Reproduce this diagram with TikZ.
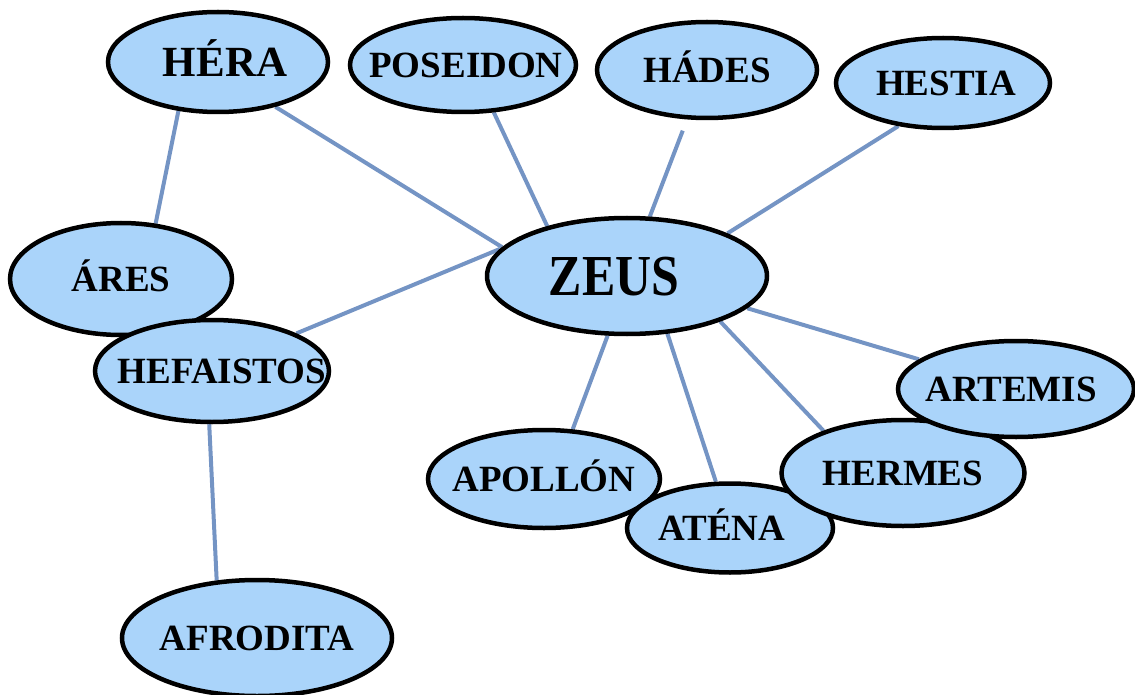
\documentclass[tikz,border=0pt]{standalone}
\usepackage{fontspec}
\setmainfont{Liberation Serif}
\newfontfamily\zeusfont{Liberation Serif}[FakeStretch=0.86]
\usetikzlibrary{shapes.geometric,backgrounds}
\definecolor{nodefill}{RGB}{170,212,250}
\definecolor{edgecol}{RGB}{116,148,196}
\newcommand{\godtext}[2][0pt]{\makebox[0pt]{\kern#1\raisebox{-0.33em}[0pt][0pt]{#2}}}
\tikzset{
  god/.style={ellipse, draw=black, line width=4.5pt, fill=nodefill, inner sep=0pt,
    font=\fontsize{37}{40}\selectfont\bfseries},
  link/.style={draw=edgecol, line width=4pt}
}
\begin{document}
\begin{tikzpicture}[x=1pt,y=-1pt]
\useasboundingbox (0,0) rectangle (1135,695);
\node[god, minimum width=220pt, minimum height=100pt, font=\fontsize{43}{46}\selectfont\bfseries] (hera) at (218,62) {\godtext[14pt]{HÉRA}};
\node[god, minimum width=226pt, minimum height=94pt] (poseidon) at (463,65) {\godtext[6pt]{POSEIDON}};
\node[god, minimum width=220pt, minimum height=96pt] (hades) at (707,70) {\godtext{HÁDES}};
\node[god, minimum width=214pt, minimum height=90pt] (hestia) at (943,83) {\godtext[6pt]{HESTIA}};
\node[god, minimum width=280pt, minimum height=116pt, font=\zeusfont\fontsize{58}{60}\selectfont\bfseries] (zeus) at (627,276) {\godtext[-26pt]{ZEUS}};
\node[god, minimum width=222pt, minimum height=112pt] (ares) at (121,279) {\godtext{ÁRES}};
\node[god, minimum width=234pt, minimum height=102pt] (hefaistos) at (212,371) {\godtext[20pt]{HEFAISTOS}};
\node[god, minimum width=232pt, minimum height=98pt] (apollon) at (544,479) {\godtext{APOLLÓN}};
\node[god, minimum width=206pt, minimum height=89pt] (atena) at (730,528) {\godtext[-16pt]{ATÉNA}};
\node[god, minimum width=243pt, minimum height=106pt] (hermes) at (903,473) {\godtext{HERMES}};
\node[god, minimum width=236pt, minimum height=96pt] (artemis) at (1016,389) {\godtext[-10pt]{ARTEMIS}};
\node[god, minimum width=270pt, minimum height=116pt] (afrodita) at (257,638) {\godtext{AFRODITA}};
\begin{scope}[on background layer]
\draw[link] (hera.-129) -- (ares.58);
\draw[link] (hera.-38) -- (zeus.167);
\draw[link] (poseidon.-57) -- (zeus.148);
\draw[link, shorten <=12pt] (hades.-112) -- (zeus.69);
\draw[link] (hestia.-136) -- (zeus.23);
\draw[link] (zeus.168) -- (hefaistos.24);
\draw[link] (zeus.-108) -- (apollon.60);
\draw[link] (zeus.-55) -- (atena.107);
\draw[link] (zeus.-26) -- (hermes.152);
\draw[link] (zeus.-15) -- (artemis.163);
\draw[link] (hefaistos.-93) -- (afrodita.125);
\end{scope}
\end{tikzpicture}
\end{document}
